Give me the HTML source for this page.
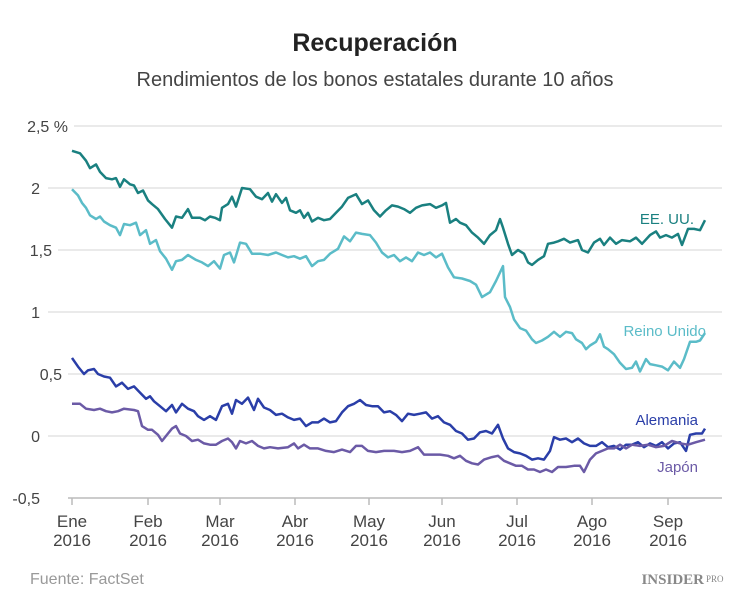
<!DOCTYPE html><html><head><meta charset="utf-8"><style>
body{margin:0;background:#fff;width:750px;height:599px;overflow:hidden;font-family:"Liberation Sans",sans-serif}
</style></head><body>
<svg id="s" width="750" height="599" xmlns="http://www.w3.org/2000/svg" font-family="Liberation Sans, sans-serif">
<text x="375" y="51" text-anchor="middle" font-size="25" font-weight="bold" fill="#222">Recuperación</text>
<text x="375" y="86" text-anchor="middle" font-size="20" fill="#444">Rendimientos de los bonos estatales durante 10 años</text>
<g stroke="#e3e3e3" stroke-width="1.5">
<line x1="74" x2="722" y1="126" y2="126"/><line x1="48" x2="722" y1="188" y2="188"/>
<line x1="58" x2="722" y1="250" y2="250"/><line x1="48" x2="722" y1="312" y2="312"/>
<line x1="68" x2="722" y1="374" y2="374"/><line x1="48" x2="722" y1="436" y2="436"/>
</g>
<line x1="68" x2="722" y1="498" y2="498" stroke="#bbb" stroke-width="1.5"/>
<g font-size="16" fill="#444" text-anchor="end">
<text x="68" y="132">2,5 %</text><text x="40" y="194">2</text><text x="52" y="256">1,5</text>
<text x="40" y="318">1</text><text x="62" y="380">0,5</text><text x="40" y="442">0</text><text x="40" y="504">-0,5</text>
</g>
<g id="ticks" stroke="#bbb" stroke-width="1.5"></g>
<g id="xl" font-size="17" fill="#444" text-anchor="middle"></g>
<g id="lines" fill="none" stroke-width="2.5" stroke-linejoin="round"></g>
<g font-size="15" text-anchor="end">
<text x="694" y="224" fill="#1a8080">EE. UU.</text>
<text x="706" y="336" fill="#5bbcc8">Reino Unido</text>
<text x="698" y="425" fill="#2a3ea8">Alemania</text>
<text x="698" y="472" fill="#6b5aa6">Japón</text>
</g>
<text x="30" y="584" font-size="16" fill="#999">Fuente: FactSet</text>
<text x="704" y="584" text-anchor="end" font-size="15" font-weight="bold" fill="#888" font-family="Liberation Serif, serif">INSIDER</text>
<text x="706" y="582" font-size="9" fill="#888" font-family="Liberation Serif, serif">PRO</text>
</svg>
<script>
var ns="http://www.w3.org/2000/svg";
var tx=[72,148,220,295,369,442,517,592,668],nm=["Ene","Feb","Mar","Abr","May","Jun","Jul","Ago","Sep"];
tx.forEach(function(x,i){var l=document.createElementNS(ns,"line");l.setAttribute("x1",x);l.setAttribute("x2",x);l.setAttribute("y1",498);l.setAttribute("y2",505);document.getElementById("ticks").appendChild(l);
[nm[i],"2016"].forEach(function(t,j){var e=document.createElementNS(ns,"text");e.setAttribute("x",x);e.setAttribute("y",527+j*19);e.textContent=t;document.getElementById("xl").appendChild(e);});});
var S={
"#1a8080":[72,2.30,80,2.28,86,2.22,90,2.16,96,2.19,100,2.13,106,2.08,112,2.07,116,2.08,120,2.01,124,2.07,130,2.03,134,2.02,138,1.96,143,1.98,148,1.90,152,1.87,158,1.83,165,1.75,172,1.68,176,1.77,182,1.76,188,1.83,192,1.76,200,1.76,205,1.74,210,1.77,215,1.76,220,1.74,222,1.84,228,1.87,232,1.93,236,1.85,242,2.00,250,1.99,256,1.93,262,1.91,268,1.96,272,1.89,276,1.95,282,1.88,286,1.92,290,1.82,296,1.80,300,1.82,304,1.76,308,1.80,312,1.73,318,1.76,324,1.74,330,1.75,336,1.80,342,1.85,348,1.92,356,1.95,362,1.87,368,1.90,374,1.82,380,1.77,386,1.82,392,1.86,398,1.85,404,1.83,410,1.80,416,1.84,422,1.86,430,1.87,436,1.84,442,1.86,446,1.88,450,1.72,456,1.75,460,1.72,466,1.70,472,1.64,478,1.60,484,1.55,490,1.62,496,1.66,500,1.75,503,1.68,508,1.55,512,1.46,518,1.50,524,1.47,528,1.40,532,1.38,538,1.42,544,1.45,548,1.55,554,1.56,558,1.57,564,1.59,570,1.56,578,1.58,582,1.50,588,1.48,594,1.56,600,1.59,604,1.54,610,1.60,616,1.55,622,1.58,630,1.57,636,1.60,642,1.55,650,1.62,656,1.65,660,1.60,666,1.62,672,1.60,678,1.63,682,1.54,688,1.67,694,1.67,700,1.66,705,1.74],
"#5bbcc8":[72,1.99,78,1.94,82,1.88,86,1.84,90,1.78,96,1.75,100,1.77,104,1.73,110,1.70,116,1.68,120,1.62,124,1.71,130,1.70,136,1.72,140,1.62,146,1.66,150,1.55,156,1.58,160,1.49,166,1.43,172,1.34,176,1.41,182,1.42,188,1.46,196,1.42,202,1.40,208,1.37,214,1.41,220,1.35,224,1.46,230,1.48,234,1.40,240,1.56,246,1.55,252,1.47,260,1.47,268,1.46,276,1.48,282,1.46,288,1.44,294,1.45,300,1.43,306,1.45,312,1.37,318,1.41,324,1.42,330,1.47,338,1.51,344,1.61,350,1.57,356,1.64,362,1.63,370,1.62,376,1.56,382,1.48,388,1.44,394,1.46,400,1.41,406,1.44,412,1.41,418,1.48,424,1.46,430,1.48,436,1.44,442,1.47,448,1.36,454,1.28,462,1.27,470,1.25,476,1.22,482,1.12,490,1.16,496,1.25,503,1.37,505,1.12,510,1.04,514,0.94,520,0.87,526,0.85,532,0.78,536,0.75,542,0.77,548,0.80,554,0.84,560,0.80,566,0.84,572,0.83,576,0.78,582,0.75,586,0.70,590,0.73,596,0.76,600,0.82,604,0.72,608,0.70,614,0.66,620,0.59,626,0.54,632,0.55,636,0.60,640,0.52,646,0.62,650,0.58,656,0.57,662,0.56,668,0.53,674,0.60,680,0.55,684,0.62,690,0.76,696,0.76,700,0.77,705,0.83],
"#2a3ea8":[72,0.63,78,0.56,84,0.50,88,0.53,94,0.54,98,0.50,104,0.48,110,0.47,116,0.40,122,0.43,128,0.38,134,0.40,140,0.35,146,0.30,150,0.32,154,0.28,160,0.24,166,0.20,172,0.25,176,0.19,182,0.26,188,0.22,194,0.20,198,0.16,204,0.13,210,0.16,216,0.13,222,0.24,228,0.26,232,0.18,236,0.29,242,0.26,248,0.31,254,0.21,258,0.30,264,0.23,270,0.21,276,0.17,282,0.18,288,0.15,294,0.13,300,0.14,306,0.08,312,0.11,318,0.11,324,0.14,330,0.11,336,0.12,342,0.19,348,0.24,354,0.26,360,0.29,366,0.25,372,0.24,378,0.24,384,0.19,390,0.20,396,0.17,402,0.12,408,0.18,414,0.17,420,0.18,426,0.19,432,0.14,438,0.16,444,0.11,450,0.09,456,0.04,462,0.02,468,-0.03,474,-0.02,480,0.03,486,0.04,492,0.02,498,0.09,503,-0.02,508,-0.10,514,-0.13,520,-0.14,526,-0.16,532,-0.19,538,-0.18,544,-0.19,550,-0.12,554,-0.01,560,-0.03,566,-0.02,572,-0.05,578,-0.02,584,-0.06,590,-0.08,596,-0.08,602,-0.05,608,-0.09,614,-0.08,620,-0.11,626,-0.07,632,-0.07,638,-0.05,644,-0.09,650,-0.06,656,-0.08,662,-0.05,668,-0.10,674,-0.06,680,-0.05,686,-0.12,690,0.01,696,0.02,702,0.02,705,0.06],
"#6b5aa6":[72,0.26,80,0.26,86,0.22,94,0.21,100,0.22,106,0.20,112,0.19,118,0.20,124,0.22,134,0.21,138,0.20,142,0.08,148,0.05,152,0.05,158,0.01,162,-0.04,168,0.02,172,0.06,176,0.08,180,0.02,186,0.00,192,-0.04,198,-0.03,204,-0.06,210,-0.07,216,-0.07,222,-0.04,228,-0.02,232,-0.05,236,-0.10,240,-0.04,246,-0.06,252,-0.04,258,-0.08,264,-0.10,270,-0.09,278,-0.10,288,-0.09,294,-0.06,298,-0.10,304,-0.07,310,-0.10,318,-0.10,326,-0.12,334,-0.13,342,-0.11,350,-0.13,356,-0.08,362,-0.08,368,-0.12,376,-0.13,384,-0.12,394,-0.12,402,-0.13,410,-0.12,418,-0.09,424,-0.15,432,-0.15,440,-0.15,448,-0.16,454,-0.18,460,-0.16,466,-0.20,472,-0.22,478,-0.23,484,-0.19,492,-0.17,498,-0.16,504,-0.20,510,-0.22,516,-0.24,522,-0.24,528,-0.27,534,-0.27,540,-0.29,546,-0.27,552,-0.29,558,-0.25,566,-0.25,574,-0.24,580,-0.24,584,-0.29,590,-0.19,596,-0.14,602,-0.12,608,-0.10,614,-0.10,620,-0.07,626,-0.10,632,-0.07,640,-0.08,648,-0.07,656,-0.09,664,-0.08,672,-0.04,680,-0.06,688,-0.07,696,-0.05,705,-0.03]};
for(var c in S){var a=S[c],p=[];for(var i=0;i<a.length;i+=2)p.push(a[i]+","+(436-a[i+1]*124).toFixed(1));
var e=document.createElementNS(ns,"polyline");e.setAttribute("points",p.join(" "));e.setAttribute("stroke",c);document.getElementById("lines").appendChild(e);}
</script>
</body></html>
